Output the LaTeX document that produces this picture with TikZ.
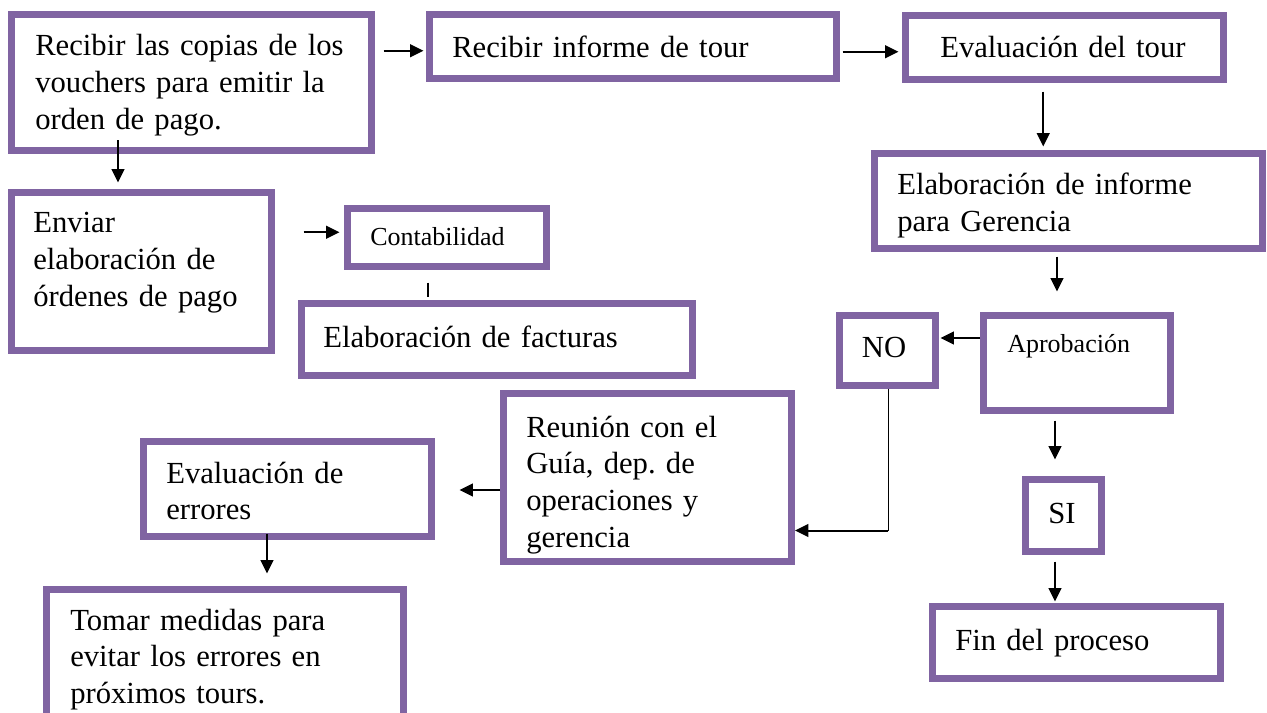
\documentclass[tikz,border=0pt]{standalone}
\usepackage{fontspec}
\setmainfont{Liberation Serif}
\usetikzlibrary{arrows.meta,calc,fit}
\definecolor{boxpurple}{RGB}{128,100,162}
\frenchspacing

\begin{document}
\begin{tikzpicture}[x=0.75pt,y=-0.75pt,
  pbox/.style={draw=boxpurple,line width=5.25pt,inner sep=0pt},
  txt/.style={inner sep=0pt,anchor=base west,text width=12cm,font=\fontsize{23}{27.5}\selectfont},
  stxt/.style={inner sep=0pt,anchor=base west,font=\fontsize{19.5}{23}\selectfont},
  arr/.style={line width=1.5pt,-{Triangle[length=10pt,width=9.5pt]}},
  link/.style={line width=1.5pt}]
  \clip (0,0) rectangle (1267,713);
  \fill[white] (0,0) rectangle (1267,713);
  % boxes
  \node[pbox,fit={(11.5,15) (371.5,150.5)}] (recibir) {};
  \node[pbox,fit={(429.5,15) (836.5,78.5)}] (recinf) {};
  \node[pbox,fit={(905,16) (1223.5,79.5)}] (evaltour) {};
  \node[pbox,fit={(874,153.5) (1262,248.5)}] (informe) {};
  \node[pbox,fit={(11.5,192.5) (271.5,350.5)}] (enviar) {};
  \node[pbox,fit={(347.5,208.5) (546,266)}] (conta) {};
  \node[pbox,fit={(301.5,303.5) (692.5,375)}] (facturas) {};
  \node[pbox,fit={(839.5,315) (935,385)}] (no) {};
  \node[pbox,fit={(983.5,315) (1170.5,410)}] (aprob) {};
  \node[pbox,fit={(1025,479.5) (1101.5,551.5)}] (si) {};
  \node[pbox,fit={(932.5,606.5) (1220,678.5)}] (fin) {};
  \node[pbox,fit={(503.5,393.5) (791.5,561.5)}] (reunion) {};
  \node[pbox,fit={(143.5,441.5) (431.5,536.5)}] (errores) {};
  \node[pbox,fit={(46,589) (403.5,760)}] (tomar) {};
  % texts
  \node[txt] (recibir-t) at (35,56) {Recibir las copias de los\\vouchers para emitir la\\orden de pago.};
  \node[txt] (recinf-t) at (452,58) {Recibir informe de tour};
  \node[txt] (evaltour-t) at (940,58) {Evaluación del tour};
  \node[txt] (informe-t) at (897,195) {Elaboración de informe\\para Gerencia};
  \node[txt] (enviar-t) at (33,233) {Enviar\\elaboración de\\órdenes de pago};
  \node[stxt] (conta-t) at (370,245) {Contabilidad};
  \node[txt] (facturas-t) at (323,347) {Elaboración de facturas};
  \node[txt,anchor=base,text width=] (no-t) at (884,357) {NO};
  \node[stxt] (aprob-t) at (1007,352) {Aprobación};
  \node[txt,anchor=base,text width=] (si-t) at (1062,523) {SI};
  \node[txt] (fin-t) at (955,650) {Fin del proceso};
  \node[txt] (reunion-t) at (526,437) {Reunión con el\\Guía, dep. de\\operaciones y\\gerencia};
  \node[txt] (errores-t) at (166,483) {Evaluación de\\errores};
  \node[txt] (tomar-t) at (70,630) {Tomar medidas para\\evitar los errores en\\próximos tours.};
  % connectors
  \draw[arr,shorten <=6.4pt,shorten >=1.9pt] ($(recibir.east|-recinf.west)+(0,4)$) -- ($(recinf.west)+(0,4)$);
  \draw[arr,shorten <=1.9pt,shorten >=2.2pt] ($(recinf.east)+(0,5)$) -- ($(evaltour.west|-recinf.east)+(0,5)$);
  \draw[arr,shorten <=6.4pt,shorten >=2.6pt] ($(evaltour.south)+(-21,0)$) -- ($(evaltour.south|-informe.north)+(-21,0)$);
  \draw[arr,shorten >=4.9pt] ($(recibir.south)+(-73.5,-13.5)$) -- ($(recibir.south|-enviar.north)+(-73.5,0)$);
  \draw[arr,shorten <=21.4pt,shorten >=3.4pt] ($(enviar.east|-conta.west)+(0,-5)$) -- ($(conta.west)+(0,-5)$);
  \draw[link,shorten <=9.75pt,shorten >=2.6pt] ($(conta.south)+(-18.75,0)$) -- ($(conta.south|-facturas.north)+(-18.75,0)$);
  \draw[arr,shorten <=3.4pt,shorten >=15pt] ($(informe.south)+(-11,0)$) -- ($(informe.south|-aprob.north)+(-11,0)$);
  \draw[arr,shorten >=1.5pt] ($(aprob.west)+(0,-24.5)$) -- ($(aprob.west-|no.east)+(0,-24.5)$);
  \draw[arr,shorten <=5.25pt,shorten >=12.4pt] ($(aprob.south)+(-22,0)$) -- ($(aprob.south|-si.north)+(-22,0)$);
  \coordinate (noturn) at ($(no.south)+(0.75,142)$);
  \draw[line width=0.75pt] ($(no.south)+(0.75,0)$) -- (noturn);
  \draw[arr] (noturn) -- (noturn-|reunion.east);
  \draw[arr,shorten <=4.9pt,shorten >=1.1pt] ($(si.south)+(-8.25,0)$) -- ($(si.south|-fin.north)+(-8.25,0)$);
  \draw[arr,shorten >=18.4pt] ($(reunion.west)+(0,12.5)$) -- ($(reunion.west-|errores.east)+(0,12.5)$);
  \draw[arr,shorten >=9pt] ($(errores.south)+(-20.5,-6.5)$) -- ($(errores.south|-tomar.north)+(-20.5,0)$);
\end{tikzpicture}
\end{document}
